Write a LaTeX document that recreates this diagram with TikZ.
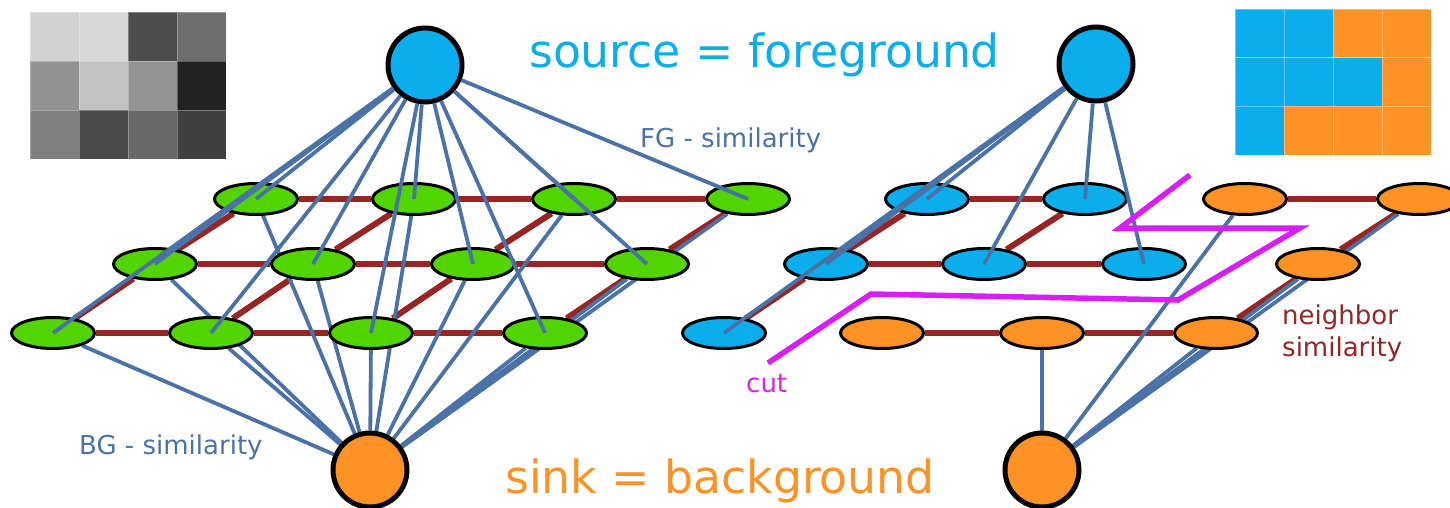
\documentclass[tikz,border=0pt]{standalone}
\usepackage{fontspec}
\setmainfont{DejaVu Sans}
\usetikzlibrary{shapes.geometric,backgrounds}

\definecolor{fgblue}{RGB}{10,174,236}
\definecolor{bgorange}{RGB}{254,146,36}
\definecolor{pixgreen}{RGB}{82,212,0}
\definecolor{tlink}{RGB}{74,114,166}
\definecolor{nlink}{RGB}{152,36,36}
\definecolor{cutpink}{RGB}{214,30,245}

\tikzset{
  pix/.style={ellipse, draw=black, line width=3pt, minimum width=83pt, minimum height=31pt, inner sep=0pt},
  term/.style={circle, draw=black, line width=5pt, minimum size=74pt, inner sep=0pt},
  tedge/.style={tlink, line width=3.8pt},
  nedge/.style={nlink, line width=6pt},
  lbl/.style={anchor=base west, inner sep=0pt, font=\fontsize{26}{32}\selectfont},
}

\begin{document}
\begin{tikzpicture}[x=1pt, y=-1pt]
  \useasboundingbox (0,0) rectangle (1450,508);

  % Bildet (graatoner) og segmenteringen
  \foreach \v [count=\i from 0] in {210,216,77,110,146,194,147,34,128,74,104,64} {
    \pgfmathtruncatemacro\cx{mod(\i,4)}
    \pgfmathtruncatemacro\cy{int(\i/4)}
    \definecolor{cellc}{RGB}{\v,\v,\v}
    \filldraw[fill=cellc, draw=white, draw opacity=0.3, line width=0.5pt] (30+49*\cx,12+49*\cy) rectangle ++(49,49);
  }
  \foreach \col [count=\i from 0] in {fgblue,fgblue,bgorange,bgorange,fgblue,fgblue,fgblue,bgorange,fgblue,bgorange,bgorange,bgorange} {
    \pgfmathtruncatemacro\cx{mod(\i,4)}
    \pgfmathtruncatemacro\cy{int(\i/4)}
    \filldraw[fill=\col, draw=white, draw opacity=0.35, line width=0.5pt] (1235+49*\cx,9+48.7*\cy) rectangle ++(49,48.7);
  }

  % Piksler, venstre graf
  \foreach \r/\ry/\rx in {1/333/53, 2/264/155, 3/199/256}
    \foreach \c/\cx in {1/0, 2/158, 3/318, 4/492}
      \node[pix, fill=pixgreen] (l\r\c) at (\rx+\cx,\ry) {};

  % Piksler, hoyre graf (etter kuttet)
  \foreach \r/\ry/\rx/\row in {1/333/724/{fgblue,bgorange,bgorange,bgorange},
                               2/264/826/{fgblue,fgblue,fgblue,bgorange},
                               3/199/927/{fgblue,fgblue,bgorange,bgorange}}
    \foreach \col [count=\c] in \row {
      \pgfmathsetmacro\cx{{0,158,318,492}[\c-1]}
      \node[pix, fill=\col] (r\r\c) at (\rx+\cx,\ry) {};
    }

  % Kilde og sluk
  \node[term, fill=fgblue] (lsrc) at (425,65) {};
  \node[term, fill=bgorange] (lsnk) at (370,470) {};
  \node[term, fill=fgblue] (rsrc) at (1096,64) {};
  \node[term, fill=bgorange] (rsnk) at (1042,470) {};

  \begin{pgfonlayer}{background}
    % Nabo-kanter
    \foreach \r in {1,2,3}
      \foreach \c/\n in {1/2, 2/3, 3/4}
        \draw[nedge] (l\r\c) -- (l\r\n);
    \foreach \r/\n in {1/2, 2/3}
      \foreach \c in {1,2,3,4}
        \draw[nedge] (l\r\c) -- (l\n\c);
    \foreach \a/\b in {12/13, 13/14, 21/22, 22/23, 31/32, 33/34, 11/21, 21/31, 22/32, 14/24, 24/34}
      \draw[nedge] (r\a) -- (r\b);
    % BG-kanter til sluk
    \foreach \r in {1,2,3}
      \foreach \c in {1,2,3,4}
        \draw[tedge] (lsnk) -- (l\r\c);
    \foreach \a in {13,14,24,33,34}
      \draw[tedge] (rsnk) -- (r\a);
  \end{pgfonlayer}

  % FG-kanter fra kilde
  \foreach \r in {1,2,3}
    \foreach \c in {1,2,3,4}
      \draw[tedge] (lsrc) -- (l\r\c.center);
  \foreach \a in {11,21,22,23,31,32}
    \draw[tedge] (rsrc) -- (r\a.center);

  % Kuttet
  \draw[cutpink, line width=5.5pt] (1190,175) -- (1120,228) -- (1300,228) -- (1178,300) -- (871,294) -- (768,363);

  % Tekst
  \node[anchor=base west, inner sep=0pt, text=fgblue, font=\fontsize{45.7}{54}\selectfont] (srctxt) at (529,68) {source = foreground};
  \node[anchor=base west, inner sep=0pt, text=bgorange, font=\fontsize{45.7}{54}\selectfont] (snktxt) at (505,493) {sink = background};
  \node[lbl, text=tlink] (fgsim) at (640,147) {FG - similarity};
  \node[lbl, text=tlink] (bgsim) at (79,454) {BG - similarity};
  \node[lbl, text=cutpink] (cuttxt) at (746,392) {cut};
  \node[lbl, text=nlink, align=left] (nbsim) at (1282,356) {neighbor\\similarity};
\end{tikzpicture}
\end{document}
